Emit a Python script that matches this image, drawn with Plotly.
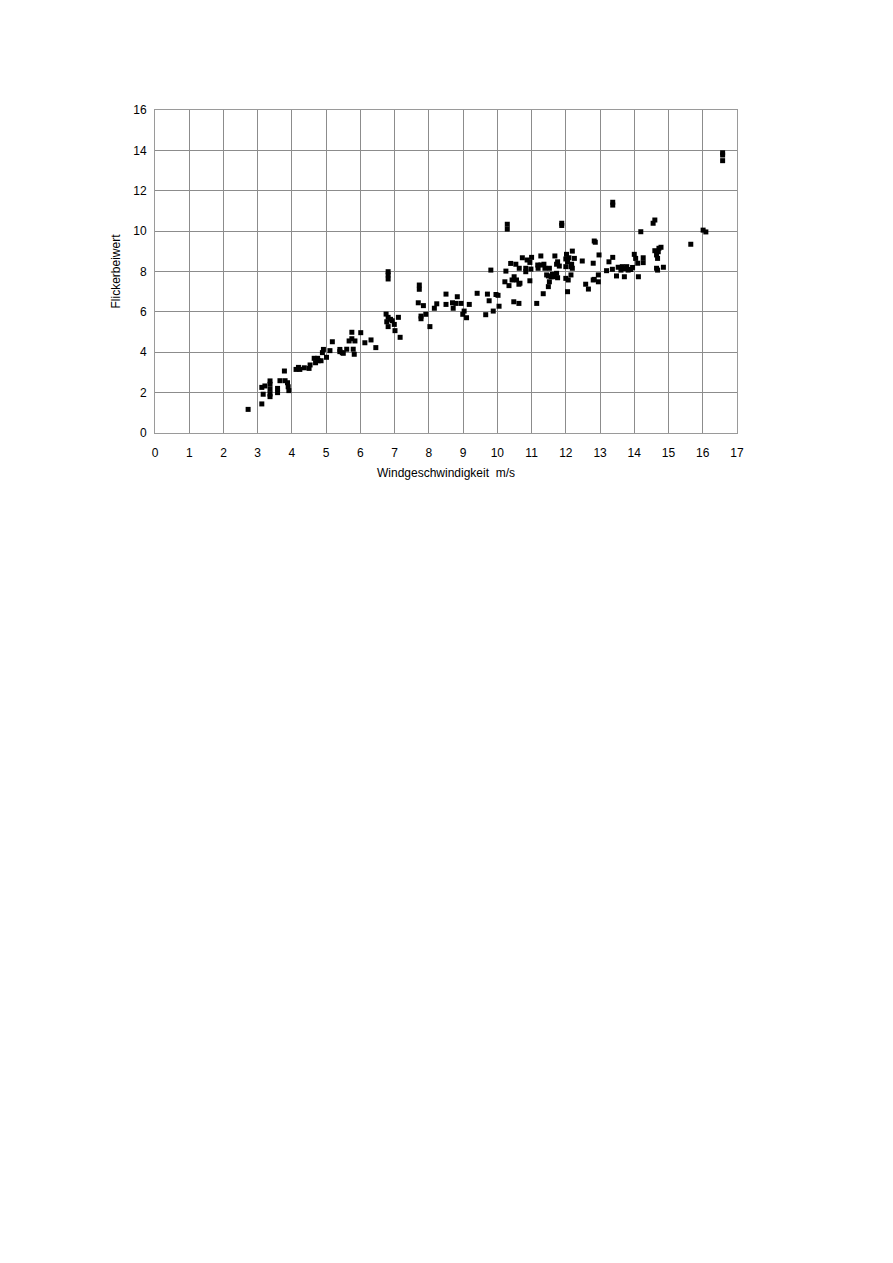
import plotly.graph_objects as go

# Windgeschwindigkeit (m/s)
wind = [
    2.72, 3.12, 3.16, 3.12, 3.21, 3.36, 3.36, 3.36, 3.36, 3.36, 3.58, 3.58, 3.65, 3.78, 3.80, 3.87, 3.89, 3.91,
    4.12, 4.19, 4.23, 4.36, 4.50, 4.53, 4.65, 4.69, 4.75, 4.77, 4.85, 4.89, 4.92, 5.01, 5.11, 5.18, 5.40, 5.47,
    5.40, 5.50, 5.60, 5.79, 5.82, 5.75, 5.75, 5.67, 5.84, 6.01, 6.13, 6.31, 6.45,
    6.81, 6.81, 6.81, 6.75, 6.81, 6.88, 6.77, 6.93, 6.81, 6.99, 7.11, 7.01, 7.16,
    7.72, 7.72, 7.69, 7.84, 7.77, 7.77, 7.91, 8.03, 8.23, 8.16,
    8.50, 8.50, 8.69, 8.79, 8.71, 8.83, 8.94, 9.03, 8.99, 9.10, 9.18, 9.41, 9.71, 9.76, 9.66, 9.88, 9.81, 9.96, 10.02, 10.05,
    10.29, 10.29, 10.25, 10.39, 10.54, 10.64, 10.73, 10.87, 11.00, 10.95, 10.83, 10.83, 10.98, 10.95, 10.49, 10.43, 10.56,
    10.66, 10.63, 10.34, 10.22, 10.48, 10.63,
    11.18, 11.27, 11.19, 11.36, 11.39, 11.27, 11.68, 11.52, 11.61, 11.73, 11.49, 11.44, 11.57, 11.76, 11.73, 11.81,
    11.66, 11.76, 11.52, 11.49, 11.34, 11.15, 11.88, 11.88,
    12.19, 12.02, 12.09, 12.25, 12.00, 12.05, 12.17, 12.00, 12.15, 12.19, 12.48, 12.80, 12.00, 12.07, 12.15, 12.05,
    12.58, 12.66, 12.80, 12.83, 12.86, 12.97, 12.95, 12.95, 12.83,
    13.37, 13.37, 13.37, 13.26, 13.19, 13.36, 13.53, 13.61, 13.71, 13.78, 13.82, 13.65, 13.48, 13.71, 13.90, 13.95,
    14.00, 14.04, 14.10, 14.26, 14.26, 14.12, 14.19, 14.60, 14.55, 14.72, 14.70, 14.60, 14.65, 14.68, 14.65, 14.68,
    14.85, 14.78,
    15.65, 16.01, 16.09, 16.58, 16.58, 16.58,
]

# Flickerbeiwert
flicker = [
    1.17, 1.44, 1.92, 2.26, 2.33, 2.58, 2.41, 2.16, 1.93, 1.80, 2.21, 2.00, 2.59, 3.07, 2.59, 2.49, 2.29, 2.10,
    3.15, 3.25, 3.15, 3.23, 3.20, 3.37, 3.70, 3.48, 3.70, 3.58, 3.58, 3.98, 4.14, 3.75, 4.08, 4.52, 4.14, 3.98,
    4.03, 3.95, 4.15, 4.15, 3.90, 4.99, 4.67, 4.56, 4.56, 4.97, 4.47, 4.61, 4.23,
    7.99, 7.83, 7.63, 5.89, 5.73, 5.63, 5.51, 5.56, 5.27, 5.38, 5.73, 5.07, 4.74,
    7.33, 7.12, 6.45, 6.31, 5.79, 5.66, 5.88, 5.27, 6.40, 6.18,
    6.88, 6.37, 6.45, 6.42, 6.18, 6.75, 6.42, 6.04, 5.88, 5.71, 6.37, 6.92, 6.88, 6.55, 5.86, 6.04, 8.07, 6.86, 6.82, 6.28,
    10.34, 10.10, 8.02, 8.40, 8.36, 8.16, 8.68, 8.57, 8.70, 8.45, 8.16, 7.99, 8.12, 7.54, 7.74, 7.58, 7.58,
    7.42, 7.37, 7.30, 7.49, 6.50, 6.42,
    8.32, 8.32, 8.16, 8.36, 8.16, 8.77, 8.77, 8.16, 7.86, 7.91, 7.78, 7.83, 7.74, 8.48, 8.36, 8.27,
    7.74, 7.69, 7.49, 7.25, 6.90, 6.42, 10.39, 10.28,
    9.01, 8.85, 8.68, 8.65, 8.62, 8.48, 8.36, 8.24, 8.24, 8.16, 8.52, 8.41, 7.66, 7.58, 7.83, 7.00,
    7.37, 7.13, 7.58, 9.51, 9.45, 8.82, 7.83, 7.49, 7.61,
    11.43, 11.29, 8.70, 8.48, 8.04, 8.11, 8.21, 8.07, 8.14, 8.24, 8.07, 8.24, 7.78, 7.74, 8.10, 8.20,
    8.85, 8.65, 8.41, 8.68, 8.44, 7.74, 9.97, 10.55, 10.39, 9.15, 8.98, 9.03, 8.82, 8.65, 8.16, 8.07,
    8.21, 9.20,
    9.35, 10.05, 9.96, 13.88, 13.77, 13.49,
]

x_ticks = list(range(0, 18))
y_ticks = list(range(0, 17, 2))

font_family = "Liberation Sans, Arial, sans-serif"

fig = go.Figure()
fig.add_trace(go.Scatter(
    x=wind, y=flicker, mode="markers",
    marker=dict(symbol="square", size=5, color="black", line=dict(width=0)),
    showlegend=False, cliponaxis=False,
))

fig.update_layout(
    width=893, height=1263,
    margin=dict(l=147, r=164, t=102, b=838),
    paper_bgcolor="white", plot_bgcolor="white",
    font=dict(family=font_family, size=12, color="black"),
    xaxis=dict(
        range=[0, 17], tickvals=x_ticks, ticktext=[str(v) for v in x_ticks],
        showgrid=True, gridcolor="#8c8c8c", gridwidth=1,
        showline=True, linecolor="#9a9a9a", linewidth=1, mirror=True,
        zeroline=False, ticks="outside", ticklen=9, tickcolor="white",
        title=dict(text="Windgeschwindigkeit  m/s", standoff=9, font=dict(size=12, color="black")),
        tickfont=dict(size=12, color="black"),
    ),
    yaxis=dict(
        range=[0, 16], tickvals=y_ticks, ticktext=[str(v) for v in y_ticks],
        showgrid=True, gridcolor="#8c8c8c", gridwidth=1,
        showline=True, linecolor="#9a9a9a", linewidth=1, mirror=True,
        zeroline=False, ticks="outside", ticklen=5, tickcolor="white",
        title=dict(text="Flickerbeiwert", standoff=10, font=dict(size=12, color="black")),
        tickfont=dict(size=12, color="black"),
    ),
)

fig.write_html("out.html")
